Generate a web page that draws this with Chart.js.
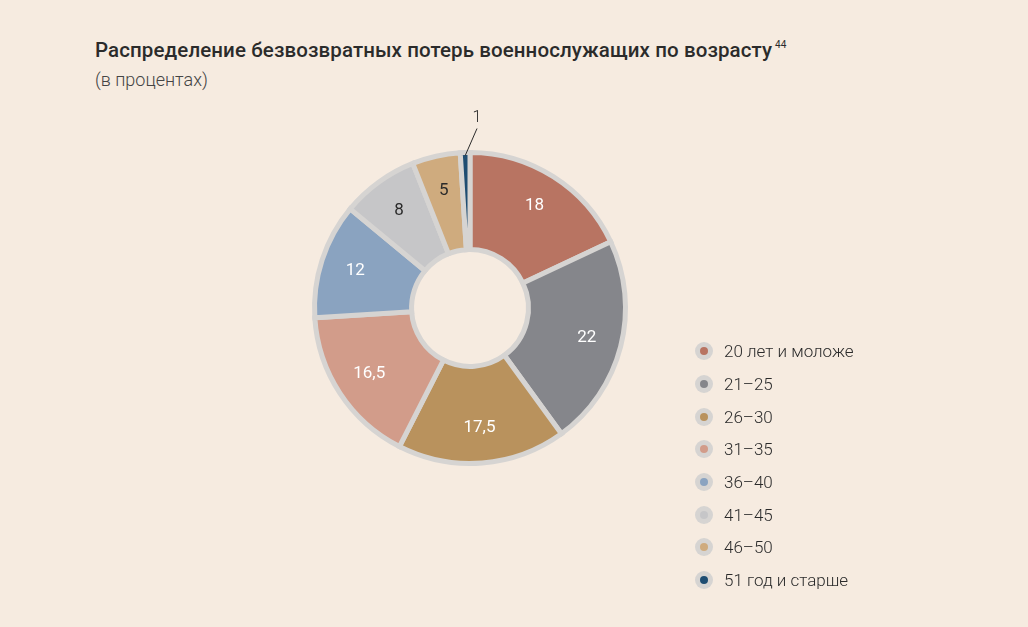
<!DOCTYPE html>
<html lang="ru">
<head>
<meta charset="utf-8">
<script src="https://cdn.jsdelivr.net/npm/chart.js@4.4.1/dist/chart.umd.min.js"></script>
<style>
  html, body { margin: 0; padding: 0; background: #f6ebe0; }
  body { width: 1028px; height: 627px; position: relative; overflow: hidden; font-family: Roboto, sans-serif; }
  #chart { position: absolute; left: 0; top: 0; }
  .title { position: absolute; left: 95px; top: 38px; font-size: 20.5px; font-weight: 500; color: #2b2b2b; white-space: nowrap; letter-spacing: 0.1px; }
  .title sup { font-size: 10px; font-weight: 400; vertical-align: 9px; margin-left: 3px; }
  .subtitle { position: absolute; left: 95px; top: 69px; font-size: 18px; font-weight: 300; color: #444; }
  #legend { position: absolute; left: 695px; top: 335px; }
  .item { display: flex; align-items: center; height: 32.7px; font-size: 17px; font-weight: 300; color: #2b2b2b; }
  .dot { width: 18px; height: 18px; border-radius: 50%; background: #d6d4d2; position: relative; margin-right: 11px; }
  .dot i { position: absolute; left: 5px; top: 5px; width: 8px; height: 8px; border-radius: 50%; }
</style>
</head>
<body>
<div class="title">Распределение безвозвратных потерь военнослужащих по возрасту<sup>44</sup></div>
<div class="subtitle">(в процентах)</div>
<canvas id="chart" width="1028" height="627"></canvas>
<div id="legend"></div>
<script>
// age groups and shares, %
const categories = ["20 лет и моложе", "21–25", "26–30", "31–35", "36–40", "41–45", "46–50", "51 год и старше"];
const shares = [18, 22, 17.5, 16.5, 12, 8, 5, 1];
const valueLabels = ["18", "22", "17,5", "16,5", "12", "8", "5", "1"];
const sliceColors = ["#b87462", "#85868b", "#b9925d", "#d29c8a", "#8aa3c0", "#c6c6c8", "#cfab7e", "#1e4d72"];
const labelColors = ["#fff", "#fff", "#fff", "#fff", "#fff", "#2b2b2b", "#2b2b2b", "#2b2b2b"];

// labels inside slices, small slices get a leader line outside
const sliceLabels = {
  id: "sliceLabels",
  afterDatasetsDraw(chart) {
    const ctx = chart.ctx;
    const arcs = chart.getDatasetMeta(0).data;
    ctx.save();
    ctx.font = "400 17px Roboto";
    ctx.textAlign = "center";
    ctx.textBaseline = "middle";
    arcs.forEach((arc, i) => {
      const { x, y, startAngle, endAngle, innerRadius, outerRadius } = arc.getProps(["x", "y", "startAngle", "endAngle", "innerRadius", "outerRadius"], true);
      const mid = (startAngle + endAngle) / 2;
      ctx.fillStyle = labelColors[i];
      if (shares[i] >= 3) {
        const r = innerRadius + (outerRadius - innerRadius) * 0.64;
        ctx.fillText(valueLabels[i], x + Math.cos(mid) * r, y + Math.sin(mid) * r);
      } else {
        // leader line from slice edge to the label above
        const r0 = outerRadius - 3;
        const x0 = x + Math.cos(mid) * r0, y0 = y + Math.sin(mid) * r0;
        const x1 = x + 7, y1 = y - outerRadius - 24;
        ctx.strokeStyle = "#2b2b2b";
        ctx.lineWidth = 1;
        ctx.beginPath();
        ctx.moveTo(x0, y0);
        ctx.lineTo(x1, y1);
        ctx.stroke();
        ctx.font = "300 16px Roboto";
        ctx.fillText(valueLabels[i], x1, y1 - 11);
      }
    });
    ctx.restore();
  }
};

new Chart(document.getElementById("chart"), {
  type: "doughnut",
  data: {
    labels: categories,
    datasets: [{
      data: shares,
      backgroundColor: sliceColors,
      borderColor: "#d6d4d2",
      borderWidth: 5,
      borderJoinStyle: "miter"
    }]
  },
  options: {
    responsive: false,
    animation: false,
    cutout: "37.6%",
    layout: { padding: { left: 312, top: 150, right: 400, bottom: 161 } },
    plugins: { legend: { display: false }, tooltip: { enabled: false } }
  },
  plugins: [sliceLabels]
});

const legend = document.getElementById("legend");
categories.forEach((c, i) => {
  const row = document.createElement("div");
  row.className = "item";
  row.innerHTML = `<span class="dot"><i style="background:${sliceColors[i]}"></i></span>${c}`;
  legend.appendChild(row);
});
</script>
</body>
</html>
